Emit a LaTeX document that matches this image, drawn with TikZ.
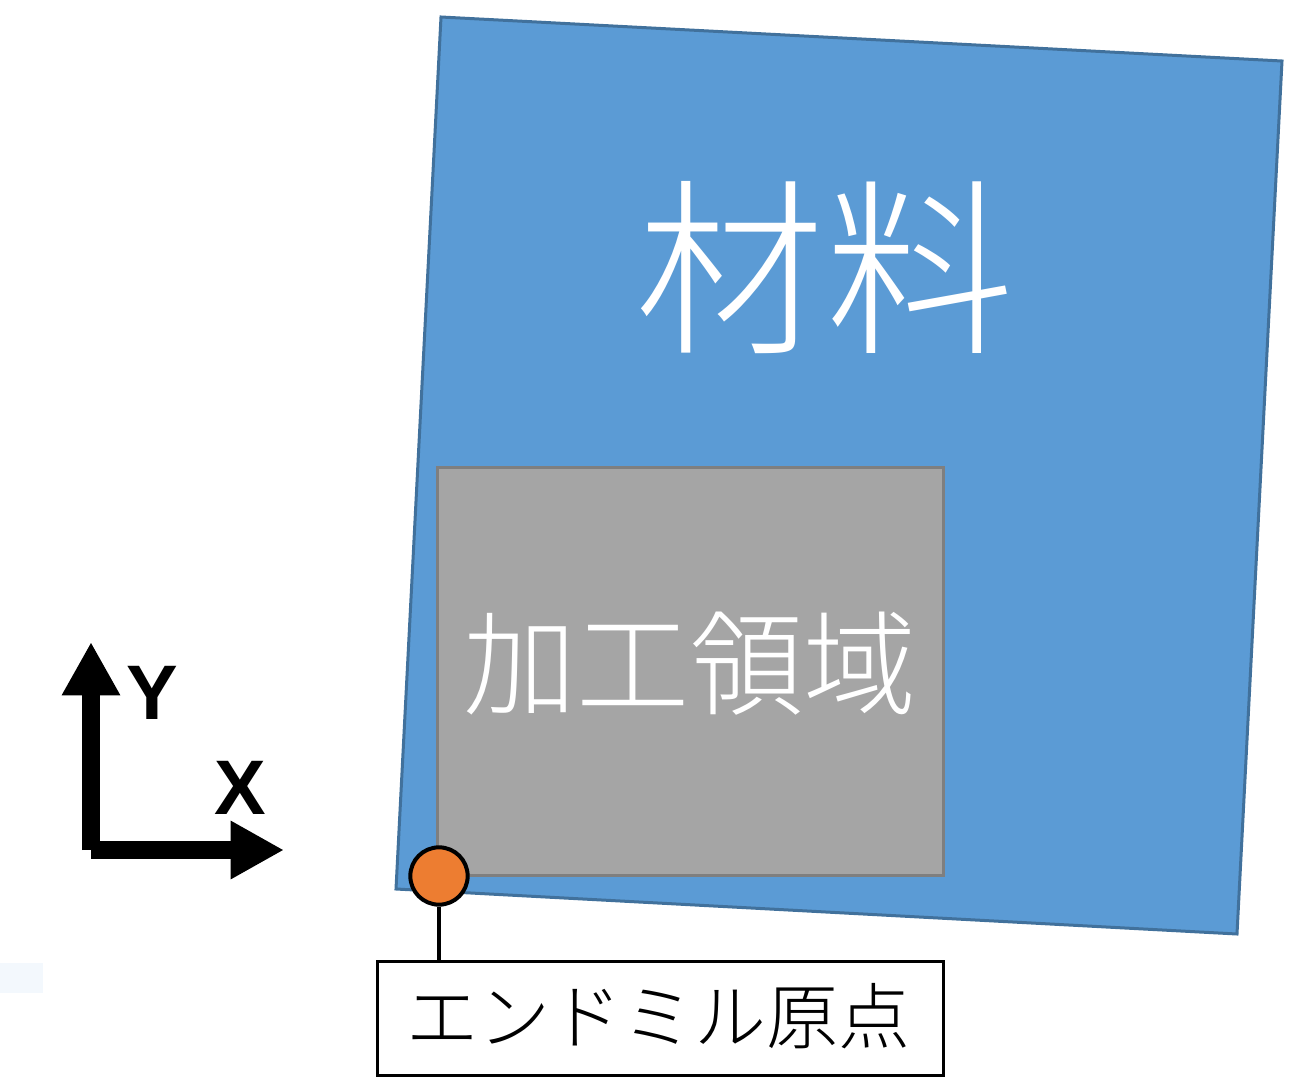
\documentclass[tikz,border=0pt]{standalone}
\usepackage{fontspec}
\setmainfont{Liberation Sans}
\newfontfamily\cjk{Noto Sans CJK JP Light}
\usetikzlibrary{arrows.meta}
\definecolor{matblue}{HTML}{5B9BD5}
\definecolor{matedge}{HTML}{41719C}
\definecolor{areagray}{HTML}{A5A5A5}
\definecolor{areaedge}{HTML}{7F7F7F}
\definecolor{origin}{HTML}{ED7D31}
\definecolor{faint}{HTML}{F3F8FD}
\tikzset{
  axisarrow/.style={line width=13.5pt,-{Triangle[length=40pt,width=41pt]}},
  lbl/.style={inner sep=0pt},
}
\begin{document}
\begin{tikzpicture}[x=0.75pt,y=-0.75pt]
\useasboundingbox (0,0) rectangle (1311,1089);
% faint patch
\fill[faint] (0,963) rectangle (43,993);
% material
\draw[fill=matblue,draw=matedge,line width=2.25pt,line join=miter]
  (441,17) -- (1282,61) -- (1237,934) -- (396,889) -- cycle;
\node[lbl,text=white,font=\cjk\fontsize{142pt}{142pt}\selectfont] (mat) at (825,268) {材料};
% machining area
\node[draw=areaedge,fill=areagray,line width=2.25pt,minimum width=379pt,minimum height=306pt,inner sep=0pt] (area) at (690.5,671.5) {};
\node[lbl,text=white,font=\cjk\fontsize{85pt}{85pt}\selectfont] (areatxt) at (690,664) {加工領域};
% label box
\node[draw=black,fill=white,line width=2.25pt,minimum width=425pt,minimum height=85pt,inner sep=0pt] (box) at (660.5,1018.5) {};
\node[lbl,font=\cjk\fontsize{54pt}{54pt}\selectfont] (boxtxt) at (658,1016) {エンドミル原点};
% origin marker
\node[circle,draw=black,fill=origin,line width=3pt,minimum size=43pt,inner sep=0pt] (org) at (439,876) {};
\draw[line width=3pt] (org.south) -- (org.south |- box.north);
% axes
\coordinate (o) at (91,850);
\coordinate (ytip) at (91,642);
\coordinate (xtip) at (284,850);
\draw[axisarrow] (o) -- (ytip);
\draw[axisarrow] (o) -- (xtip);
\node[lbl,font=\bfseries\fontsize{58pt}{58pt}\selectfont] (ylab) at (152,693) {Y};
\node[lbl,font=\bfseries\fontsize{58pt}{58pt}\selectfont] (xlab) at (240,788) {X};
\end{tikzpicture}
\end{document}
